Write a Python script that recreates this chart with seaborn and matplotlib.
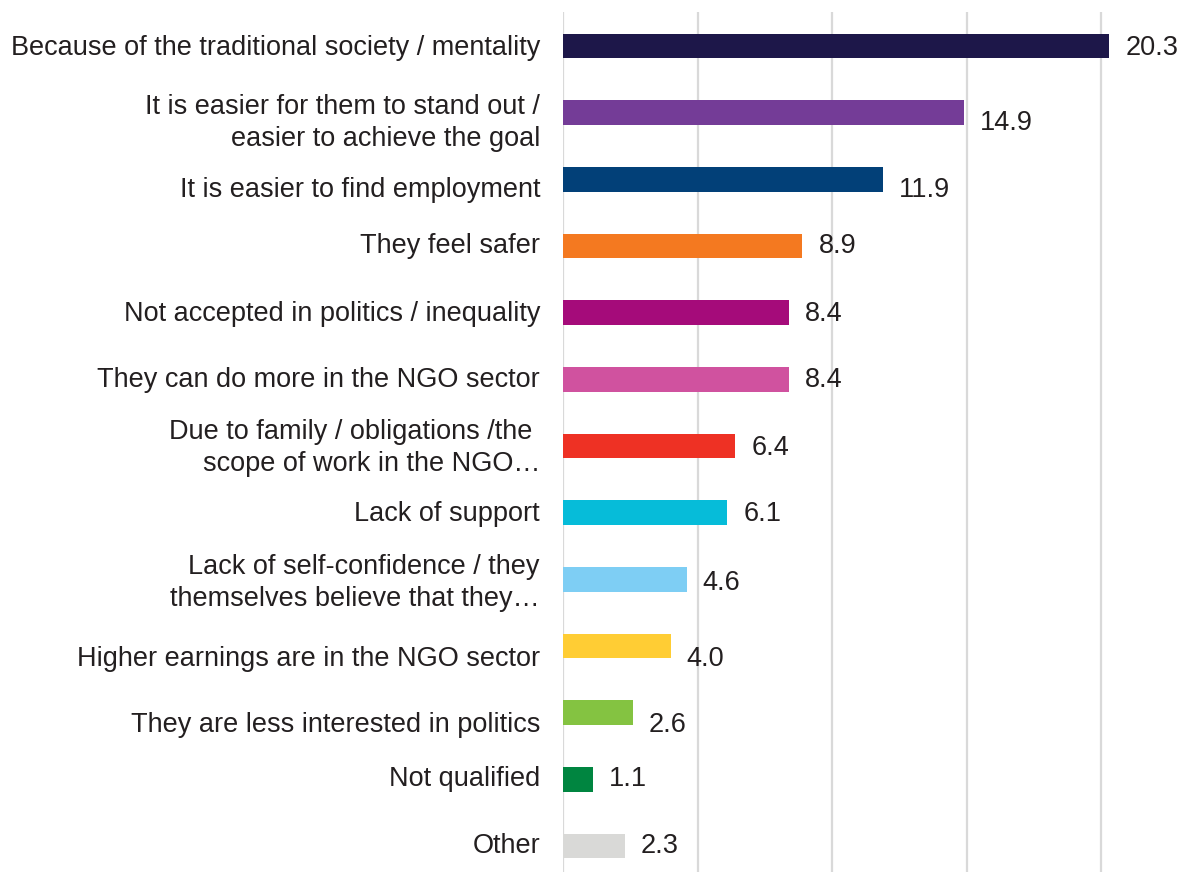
import matplotlib
matplotlib.use("Agg")
import matplotlib.pyplot as plt
import seaborn as sns
import pandas as pd

categories = [
    "Because of the traditional society / mentality",
    "It is easier for them to stand out /\neasier to achieve the goal",
    "It is easier to find employment",
    "They feel safer",
    "Not accepted in politics / inequality",
    "They can do more in the NGO sector",
    "Due to family / obligations /the \nscope of work in the NGO…",
    "Lack of support",
    "Lack of self-confidence / they\nthemselves believe that they…",
    "Higher earnings are in the NGO sector",
    "They are less interested in politics",
    "Not qualified",
    "Other",
]
values = [20.3, 14.9, 11.9, 8.9, 8.4, 8.4, 6.4, 6.1, 4.6, 4.0, 2.6, 1.1, 2.3]
colors = ["#1d1749", "#743c97", "#024078", "#f47920", "#a50b7a", "#d0529f",
          "#ee3124", "#06bcd9", "#7ecef4", "#ffcd34", "#84c341", "#008540", "#d9d9d7"]
label_dy = [2, 10, 11, 0, 1, 1, 2, 1, 4, 13, 12, 0, 0]

df = pd.DataFrame({"category": categories, "value": values})

sns.set_theme(style="white")
plt.rcParams["font.family"] = ["Liberation Sans", "DejaVu Sans"]

fig = plt.figure(figsize=(11.81, 8.72), dpi=100)
ax = fig.add_axes([563 / 1181, 0.0, (1163 - 563) / 1181, 1 - 12 / 872])

sns.barplot(data=df, y="category", x="value", hue="category", palette=colors,
            legend=False, orient="h", width=0.37, saturation=1, linewidth=0, ax=ax)

ax.set_xlim(0, 22.3)
ax.set_ylim(12.39, -0.51)
ax.set_xticks([0, 5, 10, 15, 20])
ax.xaxis.grid(True, color="#d9d9d9", linewidth=1.6)
ax.set_axisbelow(True)
ax.tick_params(axis="x", labelbottom=False, length=0)
ax.set_yticks(range(len(categories)))
ax.set_yticklabels([])
ax.tick_params(axis="y", length=0)
ax.set_xlabel("")
ax.set_ylabel("")
for s in ax.spines.values():
    s.set_visible(False)

txt_color = "#231f20"
for i, (cat, v) in enumerate(zip(categories, values)):
    ax.annotate(cat, xy=(0, i), xycoords=("axes fraction", "data"),
                xytext=(-23, -label_dy[i]), textcoords="offset pixels",
                ha="right", va="center", multialignment="right",
                fontsize=19.5, color=txt_color, linespacing=1.3)
    ax.annotate(f"{v:.1f}", xy=(v, i), xycoords="data",
                xytext=(16, -label_dy[i]), textcoords="offset pixels",
                ha="left", va="center", fontsize=19.5, color=txt_color)

fig.savefig("out.png", dpi=100)
